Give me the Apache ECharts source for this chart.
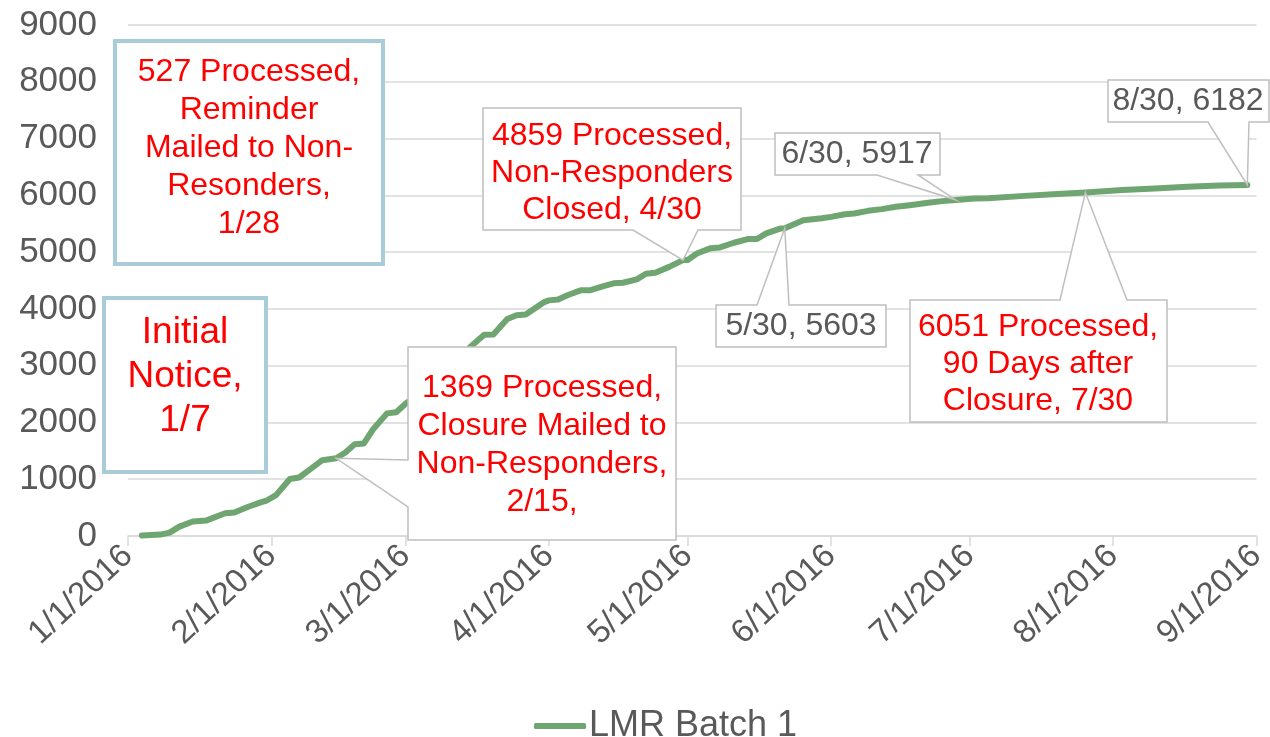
<!DOCTYPE html>
<html>
<head>
<meta charset="utf-8">
<script src="https://cdn.jsdelivr.net/npm/echarts@6/dist/echarts.min.js"></script>
<style>
html,body{margin:0;padding:0;background:#fff;}
#chart{width:1270px;height:737px;}
</style>
</head>
<body>
<div id="chart"></div>
<script>
// ---------- data ----------
const YEAR = 2016;
const seriesName = 'LMR Batch 1';
const dates = ['1/4','1/8','1/10','1/12','1/15','1/18','1/22','1/24','1/27','1/30',
  '1/31','2/2','2/5','2/7','2/9','2/12','2/15','2/17','2/19','2/21',
  '2/23','2/26','2/28','3/1','3/4','3/7','3/9','3/11','3/13','3/15',
  '3/18','3/20','3/23','3/25','3/27','3/31','4/1','4/3','4/5','4/8',
  '4/10','4/13','4/15','4/17','4/20','4/22','4/24','4/27','4/30','5/1',
  '5/3','5/6','5/8','5/11','5/14','5/16','5/18','5/21','5/22','5/26',
  '5/30','6/1','6/4','6/6','6/9','6/12','6/15','6/18','6/22','6/25',
  '6/28','7/2','7/5','7/12','7/19','7/26','8/3','8/10','8/17','8/24',
  '8/30'];
const processed = [10,25,60,160,255,275,400,415,515,600,
  625,720,1005,1030,1150,1335,1369,1470,1615,1630,
  1880,2160,2180,2330,2500,2650,2850,2950,3150,3330,
  3545,3550,3820,3890,3900,4120,4150,4165,4240,4330,
  4330,4405,4450,4460,4520,4620,4635,4740,4859,4862,
  4975,5070,5083,5165,5230,5230,5330,5415,5420,5560,
  5595,5620,5668,5680,5727,5757,5798,5827,5868,5898,
  5917,5945,5948,5986,6020,6051,6092,6120,6150,6174,
  6182];
const xTickDates = ['1/1','2/1','3/1','4/1','5/1','6/1','7/1','8/1','9/1'];
const yMin = 0, yMax = 9000, yStep = 1000;

// annotation texts and the data points their pointers reach
const noteTexts = [
  '527 Processed,\nReminder\nMailed to Non-\nResonders,\n1/28',
  'Initial\nNotice,\n1/7',
  '1369 Processed,\nClosure Mailed to\nNon-Responders,\n2/15,',
  '4859 Processed,\nNon-Responders\nClosed, 4/30',
  '6/30, 5917',
  '8/30, 6182',
  '5/30, 5603',
  '6051 Processed,\n90 Days after\nClosure, 7/30'
];
const noteAnchorDates  = [null, null, '2/15', '4/30', '6/28', '8/30', '5/22', '7/26'];
const noteAnchorValues = [null, null, 1369, 4859, 5917, 6182, 5420, 6051];

// ---------- helpers ----------
function toTime(md){ const p = md.split('/'); return new Date(YEAR, +p[0]-1, +p[1]).getTime(); }
const seriesData = dates.map((d,i)=>[toTime(d), processed[i]]);
const tickValues = xTickDates.map(toTime);

const FONT = "'Liberation Sans', Arial, sans-serif";
const AXIS_COLOR = '#595959';
const LINE_COLOR = '#6fa571';

const chart = echarts.init(document.getElementById('chart'));
chart.setOption({
  animation:false,
  backgroundColor:'#fff',
  grid:{left:128, right:9, top:25, bottom:201, containLabel:false},
  legend:{
    data:[seriesName], left:529, top:703,
    icon:'roundRect', itemWidth:52, itemHeight:6,
    textStyle:{fontSize:36, color:AXIS_COLOR, fontFamily:FONT, padding:[0,0,0,-2]}
  },
  xAxis:{
    type:'value', scale:true,
    min:tickValues[0], max:tickValues[tickValues.length-1],
    axisLine:{show:true, lineStyle:{color:'#d9d9d9', width:1.5}},
    axisTick:{show:true, inside:false, length:10, customValues:tickValues, lineStyle:{color:'#d9d9d9', width:1.5}},
    splitLine:{show:false},
    axisLabel:{
      customValues:tickValues, rotate:43, margin:15,
      fontSize:33, color:AXIS_COLOR, fontFamily:FONT,
      formatter:function(v){ const d=new Date(v); return (d.getMonth()+1)+'/'+d.getDate()+'/'+d.getFullYear(); }
    }
  },
  yAxis:{
    type:'value', min:yMin, max:yMax, interval:yStep,
    axisLine:{show:false}, axisTick:{show:false},
    splitLine:{lineStyle:{color:'#d9d9d9', width:1.5}},
    axisLabel:{fontSize:35, color:AXIS_COLOR, fontFamily:FONT, margin:31,
      formatter:function(v){ return String(v); }}
  },
  series:[{
    name:seriesName, type:'line', data:seriesData,
    symbol:'none', showSymbol:false,
    lineStyle:{color:LINE_COLOR, width:6, cap:'round', join:'round'},
    itemStyle:{color:LINE_COLOR},
    z:2
  }]
});

// ---------- annotation layout (pixels) ----------
const BLUE = '#a8cdd8', GRAY = '#bfbfbf', RED = '#ff0000';
const layout = [
  {rect:[115,41,268,223], kind:'blue', cx:249, cy:148, fs:32, lh:38, color:RED},
  {rect:[104,298,162,174], kind:'blue', cx:185, cy:377, fs:37, lh:44, color:RED},
  {rect:[408,347,268,193], kind:'callout', side:'left', a:460, b:507, cx:542, cy:445, fs:32, lh:38, color:RED},
  {rect:[483,108,258,122], kind:'callout', side:'bottom', a:633, b:698, cx:612, cy:173, fs:32, lh:37, color:RED},
  {rect:[775,133,165,42], kind:'callout', side:'bottom', a:877, b:918, cx:857, cy:154, fs:32, lh:37, color:AXIS_COLOR},
  {rect:[1108,80,161,42], kind:'callout', side:'bottom', a:1208, b:1249, cx:1188, cy:101, fs:32, lh:37, color:AXIS_COLOR},
  {rect:[716,305,170,42], kind:'callout', side:'top', a:757, b:789, cx:801, cy:326, fs:32, lh:37, color:AXIS_COLOR},
  {rect:[910,300,257,122], kind:'callout', side:'top', a:1060, b:1127, cx:1038, cy:364, fs:32, lh:37, color:RED}
];

function calloutPoints(r, side, a, b, tip){
  const [x,y,w,h] = r;
  if (side==='bottom') return [[x,y],[x+w,y],[x+w,y+h],[b,y+h],tip,[a,y+h],[x,y+h]];
  if (side==='top') return [[x,y],[a,y],tip,[b,y],[x+w,y],[x+w,y+h],[x,y+h]];
  return [[x,y],[x+w,y],[x+w,y+h],[x,y+h],[x,b],tip,[x,a]];
}

const graphics = [];
layout.forEach((L,i)=>{
  if (L.kind==='blue'){
    graphics.push({type:'rect', z:100, shape:{x:L.rect[0],y:L.rect[1],width:L.rect[2],height:L.rect[3]},
      style:{fill:'#fff', stroke:BLUE, lineWidth:4}});
  } else {
    const tip = chart.convertToPixel({gridIndex:0}, [toTime(noteAnchorDates[i]), noteAnchorValues[i]]);
    graphics.push({type:'polygon', z:100, shape:{points:calloutPoints(L.rect, L.side, L.a, L.b, tip)},
      style:{fill:'#fff', stroke:GRAY, lineWidth:1.5}});
  }
  graphics.push({type:'text', z:101, style:{text:noteTexts[i], x:L.cx, y:L.cy, align:'center', verticalAlign:'middle',
    fill:L.color, fontSize:L.fs, lineHeight:L.lh, fontFamily:FONT}});
});
chart.setOption({graphic:graphics});
</script>
</body>
</html>
